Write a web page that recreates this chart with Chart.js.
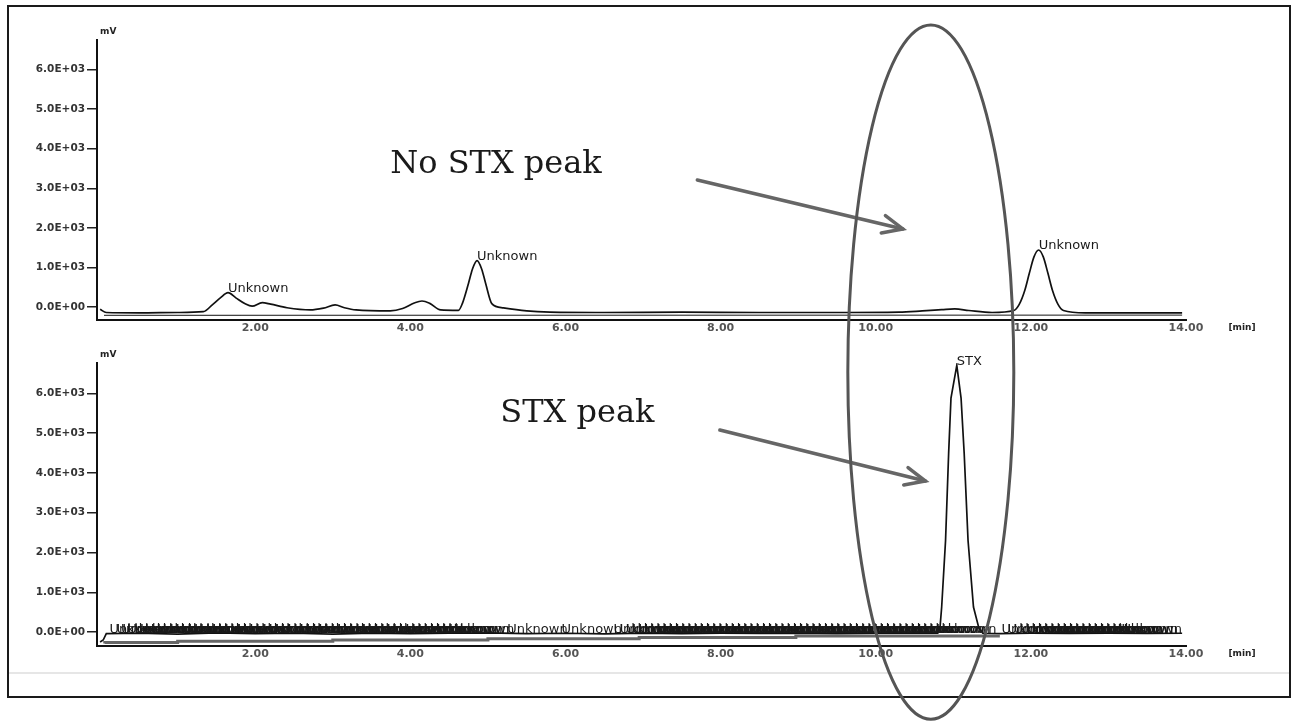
<!DOCTYPE html>
<html><head><meta charset="utf-8">
<script src="https://cdn.jsdelivr.net/npm/chart.js"></script>
<style>
html,body{margin:0;padding:0;background:#fff;}
#wrap{position:relative;width:1291px;height:721px;overflow:hidden;background:#fff;}
#frame{position:absolute;left:7px;top:5px;width:1280px;height:689px;border:2px solid #1a1a1a;}
#gline{position:absolute;left:9px;top:672px;width:1280px;height:2px;background:#e6e6e6;}
canvas{position:absolute;left:0;top:0;}
</style></head><body>
<div id="wrap">
<div id="frame"></div><div id="gline"></div>
<canvas id="c1" width="1291" height="345"></canvas>
<canvas id="c2" width="1291" height="721"></canvas>
</div>
<script>
// ---- tick labels ----
const timeTicks = [2, 4, 6, 8, 10, 12, 14];
const mvTicks = [0, 1000, 2000, 3000, 4000, 5000, 6000];

// ---- top chromatogram (sample, no STX) ----
const topTime = [0.00,0.08,0.5,1.0,1.33,1.45,1.55,1.65,1.75,1.87,1.96,2.09,2.2,2.41,2.71,2.88,3.03,3.15,3.3,3.74,3.9,4.05,4.15,4.25,4.39,4.62,4.67,4.75,4.80,4.86,4.92,4.97,5.05,5.2,5.5,5.8,6.5,7.5,8.5,9.5,10.3,10.6,10.85,11.02,11.2,11.5,11.78,11.85,11.92,11.98,12.04,12.1,12.16,12.22,12.28,12.35,12.42,12.7,13.95];
const topMv = [-60,-140,-150,-140,-120,60,230,360,230,80,20,110,70,-20,-75,-30,50,-20,-75,-100,-40,100,150,90,-75,-86,85,600,955,1170,955,600,85,-25,-100,-130,-140,-130,-140,-140,-130,-100,-70,-50,-90,-140,-90,65,410,850,1265,1440,1265,850,410,65,-90,-150,-150];
const topBaseTime = [0.05, 13.95];
const topBaseMv = [-215, -205];
const topPeakNames = ['Unknown', 'Unknown', 'Unknown'];
const topPeakTime = [1.65, 4.86, 12.1];
const topPeakMv = [360, 1170, 1440];

// ---- bottom chromatogram (STX standard) ----
const botTime = [0.0,0.04,0.08,0.5,1.0,1.5,2.0,2.5,3.0,3.5,4.0,4.5,5.0,5.5,6.0,6.5,7.0,7.5,8.0,8.5,9.0,9.5,10.0,10.5,10.8,10.83,10.85,10.90,10.94,10.97,11.045,11.10,11.14,11.19,11.26,11.33,11.38,11.6,12.0,12.5,13.0,13.5,13.95];
const botMv = [-250,-200,-40,-30,-50,-20,-40,-30,-50,-25,-40,-30,-20,-40,-30,-45,-25,-40,-30,-35,-25,-40,-30,-20,-30,150,630,2300,4500,5880,6700,5880,4500,2300,630,100,-30,-40,-30,-35,-25,-35,-30];
const botStepTime = [0.06, 1.0, 3.0, 5.0, 6.95, 8.97, 10.97, 11.6];
const botStepMv = [-285, -260, -230, -200, -170, -135, -100, -100];
const botPeakNames = ['STX'];
const botPeakTime = [11.045];
const botPeakMv = [6700];
const botUnknownTime = [0.12,0.21,0.27,0.35,0.44,0.50,0.58,0.66,0.73,0.81,0.90,0.97,1.05,1.14,1.20,1.29,1.37,1.45,1.52,1.61,1.68,1.77,1.85,1.93,2.01,2.10,2.17,2.26,2.33,2.42,2.50,2.57,2.66,2.74,2.81,2.90,2.98,3.06,3.13,3.22,3.30,3.38,3.45,3.54,3.62,3.69,3.78,3.86,3.94,4.02,4.10,4.18,4.26,4.34,4.41,4.50,4.56,5.25,5.95,6.62,6.70,6.78,6.86,6.94,7.02,7.10,7.18,7.26,7.34,7.42,7.50,7.58,7.66,7.74,7.82,7.90,7.98,8.06,8.14,8.22,8.30,8.38,8.46,8.54,8.62,8.70,8.78,8.86,8.94,9.02,9.10,9.18,9.26,9.34,9.42,9.50,9.58,9.66,9.74,9.82,9.90,9.98,10.06,10.14,10.22,10.30,10.38,10.46,10.54,10.62,10.70,10.78,11.62,11.70,11.78,11.86,11.94,12.02,12.10,12.18,12.26,12.34,12.42,12.50,12.58,12.66,12.74,12.82,12.90,12.98,13.06,13.12,13.17];
const botUnknownLevel = -30;

// ---- annotations (data coordinates) ----
const noteTop = { text: 'No STX peak', t: 3.74, mv: 3590, arrowFrom: [7.70, 3211], arrowTo: [10.35, 1972] };
const noteBot = { text: 'STX peak', t: 5.16, mv: 5477, arrowFrom: [7.99, 5075], arrowTo: [10.64, 3794] };
const ring = { t: 10.71, halfWidth: 1.07, topMvOfTopChart: 7130, bottomMvOfBottomChart: -2190 };

function fmtMv(v) {
  if (v === 0) return '0.0E+00';
  const e = Math.floor(Math.log10(Math.abs(v)));
  const m = v / Math.pow(10, e);
  return m.toFixed(1) + 'E' + (e < 0 ? '-' : '+') + String(Math.abs(e)).padStart(2, '0');
}
function pts(xs, ys) { return xs.map((x, i) => ({ x: x, y: ys[i] })); }

function makeScales(yMin, yMax, xHeight) {
  return {
    x: {
      type: 'linear', min: -0.04, max: 14,
      afterBuildTicks: s => { s.ticks = timeTicks.map(v => ({ value: v })); },
      afterFit: s => { s.height = xHeight; },
      grid: { display: false, drawTicks: false },
      border: { display: true, color: '#111', width: 2 },
      ticks: { padding: 2, color: '#555', autoSkip: false, maxRotation: 0,
        font: { family: 'DejaVu Sans', size: 11, weight: 'bold' },
        callback: v => Number(v).toFixed(2) }
    },
    y: {
      type: 'linear', min: yMin, max: yMax,
      afterBuildTicks: s => { s.ticks = mvTicks.map(v => ({ value: v })); },
      afterFit: s => { s.width = 97; },
      grid: { drawOnChartArea: false, drawTicks: true, tickLength: 10, color: '#222', lineWidth: 1.5 },
      border: { display: true, color: '#111', width: 2 },
      ticks: { padding: 2, color: '#333',
        font: { family: 'DejaVu Sans', size: 10.5, weight: 'bold' },
        callback: v => fmtMv(v) }
    }
  };
}

function drawArrow(ctx, x1, y1, x2, y2) {
  ctx.save();
  ctx.strokeStyle = '#666'; ctx.lineWidth = 3.5; ctx.lineCap = 'round';
  ctx.beginPath(); ctx.moveTo(x1, y1); ctx.lineTo(x2, y2); ctx.stroke();
  const ang = Math.atan2(y2 - y1, x2 - x1), L = 22, spread = 0.42;
  ctx.beginPath();
  ctx.moveTo(x2 - L * Math.cos(ang - spread), y2 - L * Math.sin(ang - spread));
  ctx.lineTo(x2, y2);
  ctx.lineTo(x2 - L * Math.cos(ang + spread), y2 - L * Math.sin(ang + spread));
  ctx.stroke();
  ctx.restore();
}

function decorate(chart, peaks, note, extraLabels) {
  const ctx = chart.ctx, xs = chart.scales.x, ys = chart.scales.y, a = chart.chartArea;
  ctx.save();
  ctx.fillStyle = '#1a1a1a';
  ctx.font = '13px "DejaVu Sans"';
  ctx.textAlign = 'left'; ctx.textBaseline = 'middle';
  if (extraLabels) {
    extraLabels.times.forEach(t => {
      ctx.fillText('Unknown', xs.getPixelForValue(t), ys.getPixelForValue(extraLabels.level) - 4);
    });
  }
  peaks.names.forEach((n, i) => {
    ctx.fillText(n, xs.getPixelForValue(peaks.times[i]), ys.getPixelForValue(peaks.mvs[i]) - 4);
  });
  // axis unit labels
  ctx.font = 'bold 9px "DejaVu Sans"';
  ctx.fillStyle = '#222';
  ctx.fillText('mV', a.left + 3, a.top - 8);
  ctx.textAlign = 'center';
  ctx.fillText('[min]', a.right + 56, a.bottom + 8);
  // annotation text
  ctx.font = '32px "DejaVu Serif"';
  ctx.fillStyle = '#1a1a1a';
  ctx.textAlign = 'left';
  ctx.fillText(note.text, xs.getPixelForValue(note.t), ys.getPixelForValue(note.mv));
  ctx.restore();
  drawArrow(ctx, xs.getPixelForValue(note.arrowFrom[0]), ys.getPixelForValue(note.arrowFrom[1]),
                 xs.getPixelForValue(note.arrowTo[0]), ys.getPixelForValue(note.arrowTo[1]));
}

const chart1 = new Chart(document.getElementById('c1'), {
  type: 'line',
  data: { datasets: [
    { data: pts(topBaseTime, topBaseMv), borderColor: '#444', borderWidth: 1.2, pointRadius: 0, tension: 0 },
    { data: pts(topTime, topMv), borderColor: '#111', borderWidth: 1.7, pointRadius: 0, cubicInterpolationMode: 'monotone' }
  ] },
  options: {
    responsive: false, animation: false, events: [],
    layout: { padding: { top: 40, right: 105, left: 0, bottom: 0 } },
    plugins: { legend: { display: false }, tooltip: { enabled: false } },
    scales: makeScales(-330, 6750, 25)
  },
  plugins: [{ id: 'deco1', afterDatasetsDraw(c) {
    decorate(c, { names: topPeakNames, times: topPeakTime, mvs: topPeakMv }, noteTop, null);
  } }]
});

const chart2 = new Chart(document.getElementById('c2'), {
  type: 'line',
  data: { datasets: [
    { data: pts(botStepTime, botStepMv), borderColor: '#666', borderWidth: 3, pointRadius: 0, stepped: 'after' },
    { data: pts(botTime, botMv), borderColor: '#111', borderWidth: 1.7, pointRadius: 0, tension: 0 }
  ] },
  options: {
    responsive: false, animation: false, events: [],
    layout: { padding: { top: 363, right: 105, left: 0, bottom: 0 } },
    plugins: { legend: { display: false }, tooltip: { enabled: false } },
    scales: makeScales(-350, 6760, 75)
  },
  plugins: [{ id: 'deco2', afterDatasetsDraw(c) {
    decorate(c, { names: botPeakNames, times: botPeakTime, mvs: botPeakMv }, noteBot,
      { times: botUnknownTime, level: botUnknownLevel });
    // ellipse spanning both chromatograms
    const ctx = c.ctx, xs = c.scales.x;
    const cx = xs.getPixelForValue(ring.t);
    const rx = xs.getPixelForValue(ring.t + ring.halfWidth) - cx;
    const yTop = chart1.scales.y.getPixelForValue(ring.topMvOfTopChart);
    const yBot = c.scales.y.getPixelForValue(ring.bottomMvOfBottomChart);
    ctx.save();
    ctx.strokeStyle = '#555'; ctx.lineWidth = 3;
    ctx.beginPath();
    ctx.ellipse(cx, (yTop + yBot) / 2, rx, (yBot - yTop) / 2, 0, 0, Math.PI * 2);
    ctx.stroke();
    ctx.restore();
  } }]
});
</script>
</body></html>
